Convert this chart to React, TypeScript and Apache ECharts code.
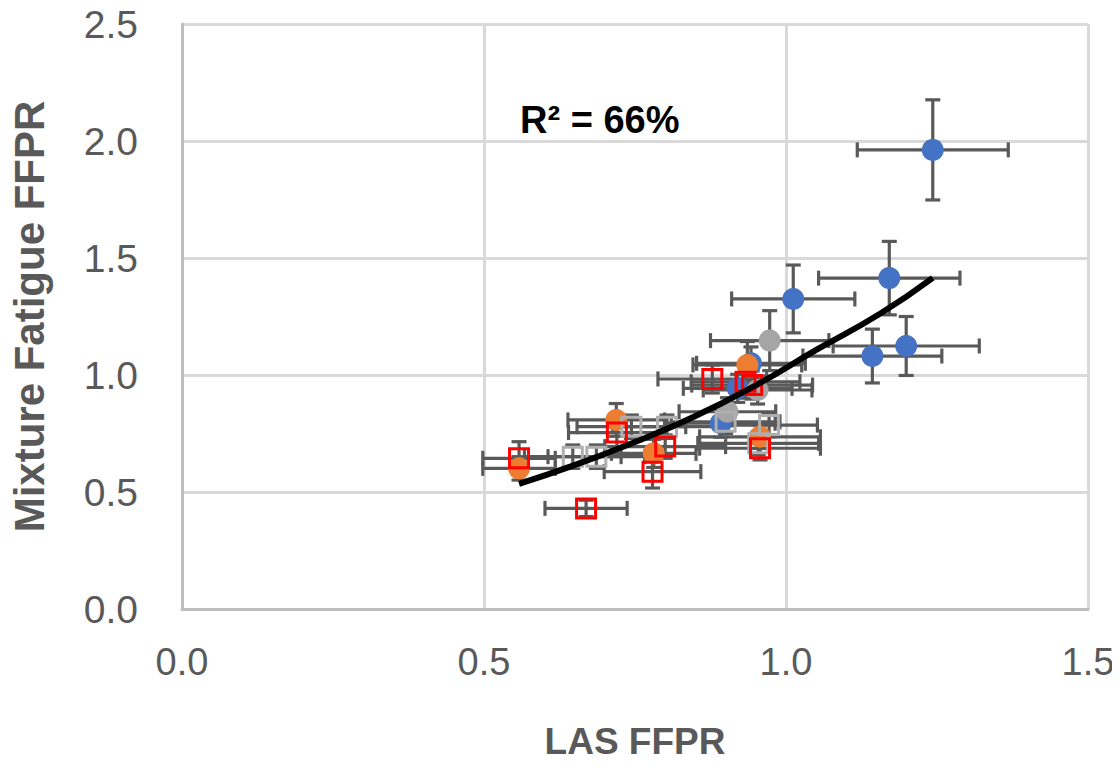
import React, { useEffect, useRef } from "react";
import * as echarts from "echarts";

// [x, y, xErr, yErr]
const bluePoints = [
  [1.243, 1.962, 0.125, 0.214],
  [1.171, 1.414, 0.117, 0.157],
  [1.012, 1.325, 0.102, 0.145],
  [1.143, 1.081, 0.115, 0.115],
  [1.199, 1.124, 0.121, 0.126],
  [0.942, 1.05, 0.09, 0.07],
  [0.92, 0.943, 0.09, 0.06],
  [0.892, 0.794, 0.09, 0.06],
];
const orangePoints = [
  [0.936, 1.043, 0.09, 0.1],
  [0.957, 0.736, 0.1, 0.05],
  [0.719, 0.808, 0.08, 0.07],
  [0.781, 0.665, 0.07, 0.06],
  [0.558, 0.601, 0.06, 0.05],
];
const grayPoints = [
  [0.973, 1.147, 0.098, 0.128],
  [0.903, 0.843, 0.08, 0.06],
  [0.953, 0.936, 0.09, 0.06],
];
const graySquarePoints = [
  [0.647, 0.651, 0.08, 0.05],
  [0.686, 0.651, 0.08, 0.05],
  [0.744, 0.779, 0.09, 0.05],
  [0.803, 0.779, 0.09, 0.05],
  [0.9, 0.8, 0.09, 0.05],
  [0.972, 0.786, 0.08, 0.05],
  [0.954, 0.708, 0.1, 0.05],
];
const redSquarePoints = [
  [0.558, 0.644, 0.06, 0.071],
  [0.669, 0.43, 0.068, 0.035],
  [0.72, 0.754, 0.08, 0.06],
  [0.779, 0.587, 0.08, 0.07],
  [0.8, 0.694, 0.1, 0.05],
  [0.878, 0.983, 0.09, 0.06],
  [0.933, 0.971, 0.09, 0.07],
  [0.944, 0.957, 0.1, 0.06],
  [0.957, 0.687, 0.1, 0.05],
];
// trend curve points
const trendPoints = [
  [0.558, 0.535],
  [0.65, 0.615],
  [0.727, 0.69],
  [0.843, 0.816],
  [0.95, 0.956],
  [1.05, 1.107],
  [1.157, 1.264],
  [1.243, 1.415],
];
const xTicks = [0, 0.5, 1.0, 1.5];
const yTicks = [0, 0.5, 1.0, 1.5, 2.0, 2.5];
const r2Label = "R\u00B2 = 66%";

const allPoints = [
  ...bluePoints,
  ...orangePoints,
  ...grayPoints,
  ...graySquarePoints,
  ...redSquarePoints,
];

export default function App() {
  const ref = useRef<HTMLDivElement>(null);
  useEffect(() => {
    if (!ref.current) return;
    const chart = echarts.init(ref.current, null, { renderer: "svg" });
    const barColor = "#595959";
    const cap = 7.5;
    const errorSeries = {
      type: "custom",
      z: 1,
      data: allPoints,
      encode: { x: 0, y: 1 },
      renderItem: (params: any, api: any) => {
        const x = api.value(0);
        const y = api.value(1);
        const xe = api.value(2);
        const ye = api.value(3);
        const l = api.coord([x - xe, y]);
        const r = api.coord([x + xe, y]);
        const t = api.coord([x, y + ye]);
        const b = api.coord([x, y - ye]);
        const style = { stroke: barColor, lineWidth: 3.2 };
        return {
          type: "group",
          children: [
            { type: "line", shape: { x1: l[0], y1: l[1], x2: r[0], y2: r[1] }, style },
            { type: "line", shape: { x1: l[0], y1: l[1] - cap, x2: l[0], y2: l[1] + cap }, style },
            { type: "line", shape: { x1: r[0], y1: r[1] - cap, x2: r[0], y2: r[1] + cap }, style },
            { type: "line", shape: { x1: t[0], y1: t[1], x2: b[0], y2: b[1] }, style },
            { type: "line", shape: { x1: t[0] - cap, y1: t[1], x2: t[0] + cap, y2: t[1] }, style },
            { type: "line", shape: { x1: b[0] - cap, y1: b[1], x2: b[0] + cap, y2: b[1] }, style },
          ],
        };
      },
    };
    const circle = (data: number[][], color: string) => ({
      type: "scatter",
      z: 3,
      data: data.map((d) => [d[0], d[1]]),
      symbol: "circle",
      symbolSize: 22,
      itemStyle: { color, opacity: 1 },
    });
    const square = (data: number[][], color: string) => ({
      type: "scatter",
      z: 4,
      data: data.map((d) => [d[0], d[1]]),
      symbol: "rect",
      symbolSize: 19,
      itemStyle: { color: "rgba(255,255,255,0)", borderColor: color, borderWidth: 3, opacity: 1 },
    });
    chart.setOption({
      animation: false,
      backgroundColor: "#ffffff",
      grid: { left: 180, right: 32, top: 24, bottom: 162, containLabel: false },
      xAxis: {
        type: "value",
        min: xTicks[0],
        max: xTicks[xTicks.length - 1],
        interval: 0.5,
        name: "LAS FFPR",
        nameLocation: "middle",
        nameGap: 114,
        nameTextStyle: { fontSize: 37, fontWeight: "bold", color: "#595959", fontFamily: "Liberation Sans" },
        axisLine: { show: true, lineStyle: { color: "#bfbfbf", width: 3 } },
        axisTick: { show: false },
        axisLabel: {
          fontSize: 38,
          color: "#595959",
          margin: 34,
          fontFamily: "Liberation Sans",
          formatter: (v: number) => v.toFixed(1),
        },
        splitLine: { show: true, lineStyle: { color: "#d9d9d9", width: 3 } },
      },
      yAxis: {
        type: "value",
        min: yTicks[0],
        max: yTicks[yTicks.length - 1],
        interval: 0.5,
        name: "Mixture Fatigue FFPR",
        nameLocation: "middle",
        nameGap: 132,
        nameTextStyle: { fontSize: 42, fontWeight: "bold", color: "#595959", fontFamily: "Liberation Sans" },
        axisLine: { show: true, lineStyle: { color: "#bfbfbf", width: 3 } },
        axisTick: { show: false },
        axisLabel: {
          fontSize: 39,
          color: "#595959",
          margin: 44,
          fontFamily: "Liberation Sans",
          formatter: (v: number) => v.toFixed(1),
        },
        splitLine: { show: true, lineStyle: { color: "#d9d9d9", width: 3 } },
      },
      graphic: [
        {
          type: "text",
          left: 520,
          top: 101,
          z: 10,
          style: {
            text: r2Label,
            fontSize: 38,
            fontWeight: "bold",
            fill: "#000000",
            fontFamily: "Liberation Sans",
          },
        },
      ],
      series: [
        errorSeries,
        circle(bluePoints, "#4472C4"),
        circle(orangePoints, "#ED7D31"),
        circle(grayPoints, "#A5A5A5"),
        square(graySquarePoints, "#AFAFAF"),
        square(redSquarePoints, "#FF0000"),
        {
          type: "line",
          z: 5,
          data: trendPoints,
          smooth: true,
          symbol: "none",
          lineStyle: { color: "#000000", width: 6 },
        },
      ],
    });
    return () => chart.dispose();
  }, []);
  return <div ref={ref} style={{ width: 1120, height: 771, margin: -8 }} />;
}
